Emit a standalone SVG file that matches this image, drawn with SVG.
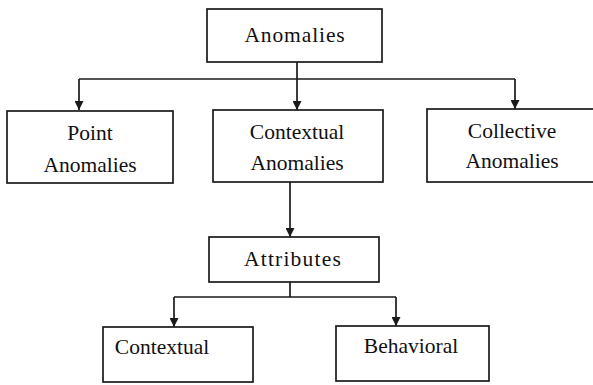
<svg xmlns="http://www.w3.org/2000/svg" width="593" height="385" viewBox="0 0 593 385">
<defs>
<style>
.box{fill:none;stroke:#1a1a1a;stroke-width:1.7}
.lbl{font-family:'Liberation Serif','DejaVu Serif',serif;font-size:21.5px;fill:#111;text-anchor:middle}
.sp{letter-spacing:0.9px}
.edge{fill:none;stroke:#1a1a1a;stroke-width:1.7}
</style>
<marker id="ah" viewBox="0 0 10 10" refX="10" refY="5" markerWidth="9" markerHeight="9" markerUnits="userSpaceOnUse" orient="auto">
<path d="M0,0 L10,5 L0,10 z" fill="#1a1a1a"/>
</marker>
</defs>
<rect width="593" height="385" fill="#ffffff"/>
<g id="connectors">
<path class="edge" d="M297,62 V79"/>
<path class="edge" d="M79,79 H515"/>
<path class="edge" d="M79,79 V110" marker-end="url(#ah)"/>
<path class="edge" d="M297,79 V110" marker-end="url(#ah)"/>
<path class="edge" d="M515,79 V109" marker-end="url(#ah)"/>
<path class="edge" d="M290,182 V237" marker-end="url(#ah)"/>
<path class="edge" d="M290,282 V297"/>
<path class="edge" d="M174,297 H396"/>
<path class="edge" d="M174,297 V327" marker-end="url(#ah)"/>
<path class="edge" d="M396,297 V326" marker-end="url(#ah)"/>
</g>
<g id="anomalies">
<rect class="box" x="207" y="9" width="175" height="53"/>
<text class="lbl sp" x="295" y="42">Anomalies</text>
</g>
<g id="point">
<rect class="box" x="7" y="111" width="166" height="72"/>
<text class="lbl" x="90" y="140">Point</text>
<text class="lbl" x="90" y="172">Anomalies</text>
</g>
<g id="contextual-anomalies">
<rect class="box" x="213" y="110" width="170" height="72"/>
<text class="lbl" x="297" y="139">Contextual</text>
<text class="lbl" x="297" y="170">Anomalies</text>
</g>
<g id="collective">
<rect class="box" x="427" y="109" width="170" height="73"/>
<text class="lbl" x="512" y="138">Collective</text>
<text class="lbl" x="512" y="168">Anomalies</text>
</g>
<g id="attributes">
<rect class="box" x="209" y="237" width="170" height="45"/>
<text class="lbl" x="293" y="266" letter-spacing="1.2">Attributes</text>
</g>
<g id="contextual">
<rect class="box" x="103" y="327" width="150" height="55"/>
<text class="lbl" x="162" y="354">Contextual</text>
</g>
<g id="behavioral">
<rect class="box" x="336" y="326" width="153" height="55"/>
<text class="lbl" x="411" y="353">Behavioral</text>
</g>
</svg>
